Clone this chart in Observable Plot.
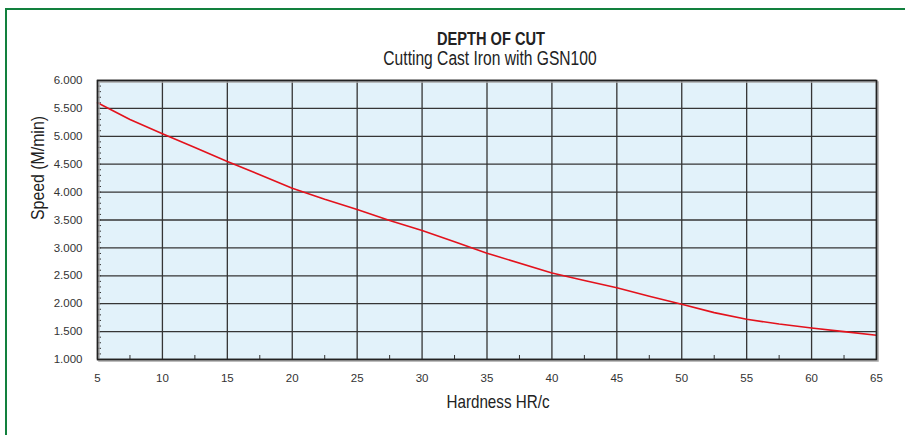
<!DOCTYPE html>
<html>
<head>
<meta charset="utf-8">
<script src="https://cdn.jsdelivr.net/npm/d3@7"></script>
<script src="https://cdn.jsdelivr.net/npm/@observablehq/plot@0.6"></script>
<style>
  html, body { margin: 0; padding: 0; background: #fff; }
  #wrap { position: relative; width: 905px; height: 435px; overflow: hidden;
          font-family: "Liberation Sans", Arial, Helvetica, sans-serif; color: #222; }
  #frame { position: absolute; left: 5px; top: 8px; width: 1000px; height: 1000px;
           border-left: 2.5px solid #12803e; border-top: 2.5px solid #12803e; pointer-events: none; }
  #header { position: relative; height: 70px; }
  .t { position: absolute; white-space: nowrap; line-height: 1; }
  #title { left: 491px; top: 28.5px; font-size: 19px; font-weight: bold; transform: translateX(-50%) scaleX(0.77); }
  #subtitle { left: 490px; top: 49px; font-size: 19.5px; transform: translateX(-50%) scaleX(0.8); }
  #chart svg { display: block; }
</style>
</head>
<body>
<div id="wrap">
  <div id="header">
    <div class="t" id="title"></div>
    <div class="t" id="subtitle"></div>
  </div>
  <div id="chart"></div>
  <div id="frame"></div>
</div>
<script>
const titleText = "DEPTH OF CUT";
const subtitleText = "Cutting Cast Iron with GSN100";
const xLabel = "Hardness HR/c";
const yLabel = "Speed (M/min)";

const hardness = [5, 7.5, 10, 12.5, 15, 17.5, 20, 22.5, 25, 27.5, 30, 32.5, 35, 40, 42.5, 45, 47.5, 50, 52.5, 55, 57.5, 60, 62.5, 65];
const speed    = [5.60, 5.30, 5.045, 4.80, 4.55, 4.31, 4.07, 3.87, 3.69, 3.49, 3.31, 3.11, 2.905, 2.55, 2.415, 2.285, 2.135, 1.99, 1.84, 1.72, 1.635, 1.565, 1.50, 1.435];

const xTicks = [5, 10, 15, 20, 25, 30, 35, 40, 45, 50, 55, 60, 65];
const xMinorTicks = [7.5, 12.5, 17.5, 22.5, 27.5, 32.5, 37.5, 42.5, 47.5, 52.5, 57.5, 62.5];
const yTicks = [1, 1.5, 2, 2.5, 3, 3.5, 4, 4.5, 5, 5.5, 6];
const yMinorTicks = d3.range(10, 60).map(v => v / 10);

document.getElementById("title").textContent = titleText;
document.getElementById("subtitle").textContent = subtitleText;

const data = hardness.map((h, i) => ({hardness: h, speed: speed[i]}));
const font = '"Liberation Sans", Arial, Helvetica, sans-serif';
const gridColor = "#353535";

const chart = Plot.plot({
  width: 905,
  height: 365,
  marginTop: 10,
  marginBottom: 76,
  marginLeft: 97,
  marginRight: 29,
  x: {domain: [5, 65]},
  y: {domain: [1, 6]},
  style: {fontFamily: font, fontSize: "11.5px", color: "#333", background: "transparent"},
  marks: [
    Plot.frame({fill: "#e2f2fa"}),
    Plot.gridX(xTicks, {stroke: gridColor, strokeOpacity: 1, strokeWidth: 1.3}),
    Plot.gridY(yTicks, {stroke: gridColor, strokeOpacity: 1, strokeWidth: 1.3}),
    Plot.axisY(yMinorTicks, {tickSize: 4, dx: 4, tickFormat: () => "", label: null, stroke: "#333"}),
    Plot.axisX(xMinorTicks, {tickSize: 4, dy: -4, tickFormat: () => "", label: null, stroke: "#333"}),
    Plot.axisX(xTicks, {tickSize: 0, tickPadding: 14, label: null, fill: "#333"}),
    Plot.axisY(yTicks, {tickSize: 0, tickPadding: 15, tickFormat: d3.format(".3f"), label: null, fill: "#333"}),
    Plot.line(data, {x: "hardness", y: "speed", stroke: "#e3121c", strokeWidth: 1.6}),
    Plot.frame({dx: 1.5, dy: 1.5, stroke: "#a8a8a8", strokeWidth: 1.5}),
    Plot.frame({stroke: "#222", strokeWidth: 1.6}),
    Plot.text([xLabel], {frameAnchor: "bottom", dx: 11, dy: 48, fontSize: 18.5, fill: "#222", text: d => d}),
    Plot.text([yLabel], {frameAnchor: "left", rotate: -90, dx: -59, fontSize: 18.5, fill: "#222", text: d => d})
  ]
});

// condense the axis titles to mimic the narrow typeface of the reference
const condensed = {[xLabel]: 103, [yLabel]: 104};
d3.select(chart).selectAll("text").each(function() {
  const w = condensed[this.textContent];
  if (w) {
    this.setAttribute("textLength", w);
    this.setAttribute("lengthAdjust", "spacingAndGlyphs");
  }
});
document.getElementById("chart").appendChild(chart);
</script>
</body>
</html>
